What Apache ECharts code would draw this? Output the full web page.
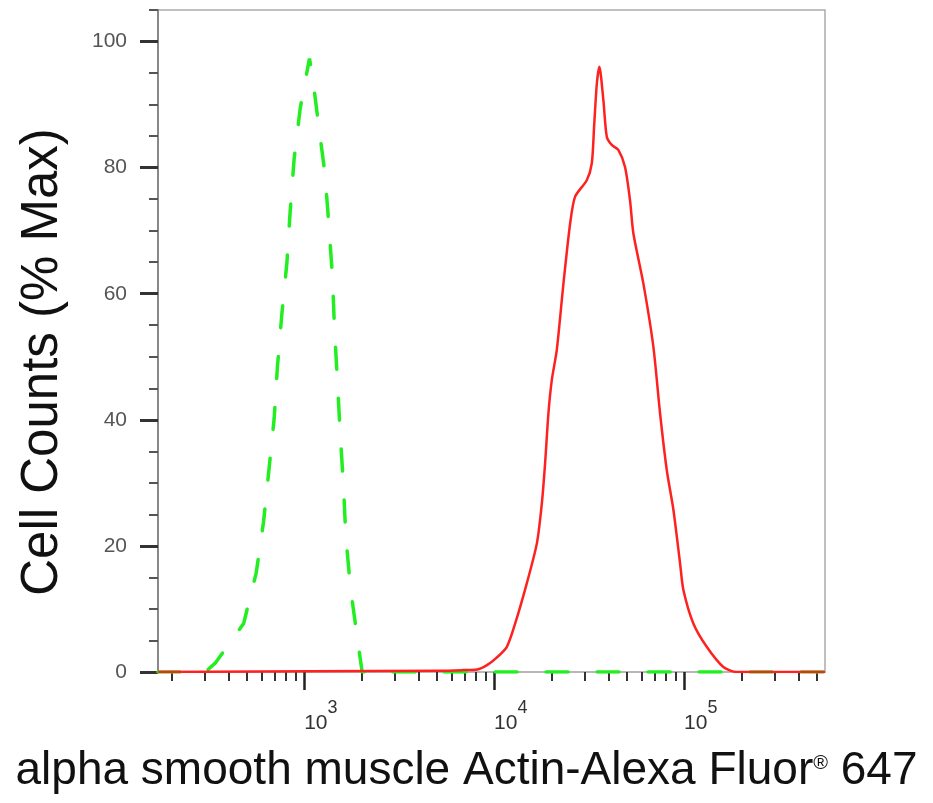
<!DOCTYPE html>
<html><head><meta charset="utf-8">
<script src="https://cdn.jsdelivr.net/npm/echarts@6/dist/echarts.min.js"></script>
<style>html,body{margin:0;padding:0;background:#fff}#c{width:933px;height:803px}</style>
</head><body><div id="c"></div>
<script>
// ---- axis settings / tick values ----
const xMin = 170, xMax = 552000;
const xMajorTicks = [1000, 10000, 100000];
const xMinorTicks = [200,300,400,500,600,700,800,900,
  2000,3000,4000,5000,6000,7000,8000,9000,
  20000,30000,40000,50000,60000,70000,80000,90000,
  200000,300000,400000,500000];
const yMajorTicks = [0, 20, 40, 60, 80, 100];
const yMinorTicks = [5,10,15,25,30,35,45,50,55,65,70,75,85,90,95,105];

// ---- isotype control (green dashed) ----
const isoX = [170, 301, 340, 480, 559, 611, 652, 695, 723, 763, 811, 844, 886, 953, 1066,
  1098, 1185, 1286, 1349, 1409, 1443, 1497, 1547, 1609, 1657, 1753, 1909, 2019, 552000];
const isoY = [0, 0, 1.4, 7.7, 15.7, 23.8, 32, 40.2, 48.4, 56.8, 64.9, 73.1, 81.5, 89.4, 97.3,
  95.2, 87.3, 79.1, 70.9, 62.7, 54.7, 46, 37.9, 29.7, 21.5, 13.3, 5.2, 0, 0];

// ---- alpha-SMA stained (red solid) ----
const stainX = [170, 5200, 6870, 8150, 9170, 10250, 11670, 12910, 14870, 16790, 17840, 18550,
  19310, 20120, 21380, 23170, 25120, 26690, 30740, 32680, 33600, 34730, 35810, 37600, 39190,
  41600, 45080, 48880, 51940, 54070, 61070, 68910, 74770, 81100, 87900, 95300, 99200, 111900,
  131600, 161000, 189300, 552000];
const stainY = [0, 0.2, 0.3, 0.4, 1.1, 2.2, 4, 7.7, 14.1, 20.4, 26.8, 33.1,
  41, 46.3, 51.1, 61.6, 71.1, 75.4, 78, 80.7, 86.5, 93.3, 96, 90.7, 84.9,
  83.6, 82.8, 80.1, 74.8, 69.6, 61.6, 51.6, 41, 32, 25.7, 17.2, 13, 7.7,
  4, 0.8, 0, 0];

const xTitle = 'alpha smooth muscle Actin-Alexa Fluor';
const yTitle = 'Cell Counts (% Max)';
const FONT = '"Liberation Sans", Arial, sans-serif';

const pair = (xs, ys) => xs.map((x, i) => [x, ys[i]]);

const chart = echarts.init(document.getElementById('c'), null, {renderer: 'canvas'});
chart.setOption({
  animation: false,
  backgroundColor: '#fff',
  grid: {left: 158, right: 108, top: 10, bottom: 131, show: true,
         borderColor: '#aaa', borderWidth: 1.5, containLabel: false},
  title: {
    text: '{m|' + xTitle + '}{r|®}{m| 647}',
    left: 'center', top: 745, padding: 0,
    textStyle: {
      fontWeight: 'normal',
      rich: {
        m: {fontSize: 46, lineHeight: 52, fontFamily: FONT, fontWeight: 'normal', color: '#111'},
        r: {fontSize: 20, lineHeight: 20, padding: [0, 0, 16, 0], fontFamily: FONT, fontWeight: 'normal', color: '#111'}
      }
    }
  },
  graphic: [{
    type: 'text', x: 43, y: 362, rotation: Math.PI / 2,
    style: {text: yTitle, font: '51px ' + FONT, fill: '#111',
            align: 'center', verticalAlign: 'middle',
            textAlign: 'center', textVerticalAlign: 'middle'}
  }],
  xAxis: [{
    type: 'log', logBase: 10, min: xMin, max: xMax, position: 'bottom',
    axisLine: {show: true, lineStyle: {color: '#b8b8b8', width: 2}},
    splitLine: {show: false},
    axisTick: {show: true, customValues: xMajorTicks, length: 18, lineStyle: {color: '#222', width: 2.5}},
    axisLabel: {
      show: true, customValues: xMajorTicks, margin: 41, align: 'left',
      formatter: v => '{a|10}{b|' + Math.round(Math.log10(v)) + '}',
      rich: {
        a: {fontSize: 21, lineHeight: 21, verticalAlign: 'bottom', fontFamily: FONT, color: '#333'},
        b: {fontSize: 18, lineHeight: 18, verticalAlign: 'bottom', padding: [0, 0, 17, 0], fontFamily: FONT, color: '#333'}
      }
    }
  }, {
    type: 'log', logBase: 10, min: xMin, max: xMax, position: 'bottom',
    axisLine: {show: false}, splitLine: {show: false}, axisLabel: {show: false},
    axisTick: {show: true, customValues: xMinorTicks, length: 9, lineStyle: {color: '#333', width: 2}}
  }],
  yAxis: [{
    type: 'value', min: 0, max: 105, position: 'left',
    axisLine: {show: true, lineStyle: {color: '#888', width: 2}},
    splitLine: {show: false},
    axisTick: {show: true, customValues: yMajorTicks, length: 18, lineStyle: {color: '#333', width: 3}},
    axisLabel: {show: true, customValues: yMajorTicks, margin: 31, fontSize: 21, fontFamily: FONT, color: '#555'}
  }, {
    type: 'value', min: 0, max: 105, position: 'left',
    axisLine: {show: false}, splitLine: {show: false}, axisLabel: {show: false},
    axisTick: {show: true, customValues: yMinorTicks, length: 9, lineStyle: {color: '#555', width: 2}}
  }],
  series: [{
    name: 'Isotype control', type: 'line', xAxisIndex: 0, yAxisIndex: 0,
    data: pair(isoX, isoY), showSymbol: false, symbol: 'none', smooth: false,
    lineStyle: {color: '#22ee22', width: 3.5, type: [22, 29], cap: 'round'}, z: 2
  }, {
    name: 'alpha SMA', type: 'line', xAxisIndex: 0, yAxisIndex: 0,
    data: pair(stainX, stainY), showSymbol: false, symbol: 'none', smooth: 0.25,
    lineStyle: {color: '#ff2020', width: 2.5}, z: 3
  }]
});
</script>
</body></html>
